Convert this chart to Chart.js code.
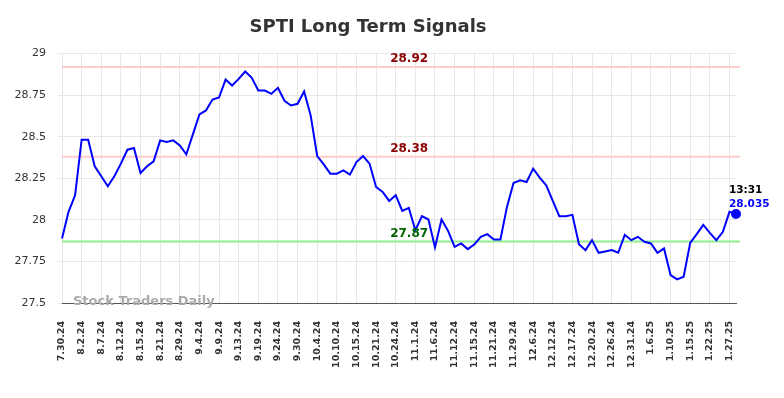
<!DOCTYPE html>
<html>
<head>
<meta charset="utf-8">
<title>SPTI Long Term Signals</title>
<script src="https://cdn.jsdelivr.net/npm/chart.js"></script>
<style>
  body { margin: 0; background: #fff; }
  #wrap { width: 784px; height: 398px; position: relative; }
</style>
</head>
<body>
<div id="wrap"><canvas id="chart"></canvas></div>
<script>
'use strict';

// tick labels shown on the x axis (every 3rd point)
var tickLabels = ['7.30.24', '8.2.24', '8.7.24', '8.12.24', '8.15.24', '8.21.24', '8.29.24', '9.4.24',
    '9.9.24', '9.13.24', '9.19.24', '9.24.24', '9.30.24', '10.4.24', '10.10.24', '10.15.24', '10.21.24',
    '10.24.24', '11.1.24', '11.6.24', '11.12.24', '11.15.24', '11.21.24', '11.29.24', '12.6.24', '12.12.24',
    '12.17.24', '12.20.24', '12.26.24', '12.31.24', '1.6.25', '1.10.25', '1.15.25', '1.22.25', '1.27.25'];

// closing prices, one per point
var prices = [27.888, 28.048, 28.148, 28.482, 28.482, 28.322, 28.262, 28.202, 28.262, 28.338,
    28.422, 28.432, 28.282, 28.322, 28.352, 28.478, 28.468, 28.478, 28.448, 28.394,
    28.514, 28.634, 28.658, 28.724, 28.736, 28.844, 28.808, 28.848, 28.892, 28.854,
    28.778, 28.778, 28.758, 28.794, 28.716, 28.688, 28.698, 28.772, 28.628, 28.384,
    28.334, 28.278, 28.278, 28.298, 28.272, 28.348, 28.384, 28.338, 28.198, 28.168,
    28.114, 28.148, 28.054, 28.072, 27.938, 28.022, 28.002, 27.834, 28.002, 27.934,
    27.838, 27.858, 27.824, 27.852, 27.898, 27.914, 27.882, 27.882, 28.078, 28.222,
    28.238, 28.228, 28.308, 28.254, 28.208, 28.114, 28.022, 28.022, 28.030, 27.854,
    27.818, 27.878, 27.802, 27.810, 27.818, 27.802, 27.910, 27.878, 27.898, 27.868,
    27.858, 27.802, 27.828, 27.668, 27.642, 27.658, 27.862, 27.914, 27.970, 27.922,
    27.878, 27.928, 28.048, 28.035];

var yTicks = [27.5, 27.75, 28, 28.25, 28.5, 28.75, 29];

// signal levels
var resistHigh = 28.92;
var resistLow = 28.38;
var support = 27.87;

var lastTime = '13:31';

var labels = prices.map(function(p, i) {
    return i % 3 === 0 ? tickLabels[i / 3] : '';
});
var lastIdx = prices.length - 1;

var levelPlugin = {
    id: 'levels',
    beforeDatasetsDraw: function(chart) {
        var c = chart.ctx, a = chart.chartArea, y = chart.scales.y;
        var lines = [[resistHigh, '#ffcccc'], [resistLow, '#ffcccc'], [support, '#90ee90']];
        c.save();
        c.lineWidth = 2;
        lines.forEach(function(l) {
            var py = y.getPixelForValue(l[0]);
            c.strokeStyle = l[1];
            c.beginPath();
            c.moveTo(a.left, py);
            c.lineTo(a.right + 4, py);
            c.stroke();
        });
        // watermark
        c.font = 'bold 13px "DejaVu Sans"';
        c.fillStyle = '#aaaaaa';
        c.textAlign = 'left';
        c.textBaseline = 'middle';
        c.fillText('Stock Traders Daily', 73, a.bottom - 1);
        c.restore();
    },
    afterDatasetsDraw: function(chart) {
        var c = chart.ctx, a = chart.chartArea, y = chart.scales.y, x = chart.scales.x;
        var tx = a.left + (a.right - a.left) * 0.515;
        c.save();
        c.font = 'bold 12px "DejaVu Sans"';
        c.textAlign = 'center';
        c.textBaseline = 'bottom';
        c.fillStyle = '#8b0000';
        c.fillText(resistHigh.toFixed(2), tx, y.getPixelForValue(resistHigh) - 2);
        c.fillText(resistLow.toFixed(2), tx, y.getPixelForValue(resistLow) - 2);
        c.fillStyle = '#006400';
        c.fillText(support.toFixed(2), tx, y.getPixelForValue(support) - 2);

        var px = x.getPixelForValue(lastIdx);
        var py = y.getPixelForValue(prices[lastIdx]);
        c.font = 'bold 10.5px "DejaVu Sans"';
        c.textAlign = 'left';
        c.textBaseline = 'middle';
        c.fillStyle = '#000000';
        c.fillText(lastTime, px - 7, py - 24);
        c.fillStyle = '#0000ff';
        c.fillText(prices[lastIdx].toString(), px - 7, py - 10);
        c.restore();
    }
};

var ctx = document.getElementById('chart').getContext('2d');
var chart = new Chart(ctx, {
    type: 'line',
    data: {
        labels: labels,
        datasets: [{
            data: prices,
            borderColor: '#0000ff',
            backgroundColor: '#0000ff',
            borderWidth: 2,
            tension: 0,
            pointRadius: function(c) { return c.dataIndex === lastIdx ? 4 : 0; },
            pointHoverRadius: 0
        }]
    },
    options: {
        responsive: true,
        maintainAspectRatio: false,
        animation: false,
        layout: { padding: { left: 0, right: 48, top: 0, bottom: 0 } },
        plugins: {
            legend: { display: false },
            tooltip: { enabled: false },
            title: {
                display: true,
                text: 'SPTI Long Term Signals',
                color: '#333333',
                font: { family: '"DejaVu Sans"', size: 18, weight: 'bold' },
                padding: { top: 17, bottom: 15 }
            }
        },
        scales: {
            x: {
                type: 'category',
                offset: false,
                border: { display: true, color: '#555555', width: 1 },
                grid: { color: '#e6e6e6', drawTicks: false },
                ticks: {
                    autoSkip: false,
                    maxRotation: 90,
                    minRotation: 90,
                    padding: 18,
                    color: '#333333',
                    font: { family: '"DejaVu Sans"', size: 9.5, weight: 'bold' },
                    callback: function(v, i) { return labels[i] ? labels[i] : null; }
                },
                afterFit: function(s) { s.height = 95; }
            },
            y: {
                min: 27.5,
                max: 29,
                border: { display: false },
                grid: { color: '#e6e6e6', tickLength: 4 },
                afterBuildTicks: function(s) {
                    s.ticks = yTicks.map(function(v) { return { value: v }; });
                },
                ticks: {
                    padding: 12,
                    color: '#333333',
                    font: { family: '"DejaVu Sans"', size: 11 },
                    callback: function(v) { return String(v); }
                },
                afterFit: function(s) { s.width = 62; }
            }
        }
    },
    plugins: [levelPlugin]
});
</script>
</body>
</html>
